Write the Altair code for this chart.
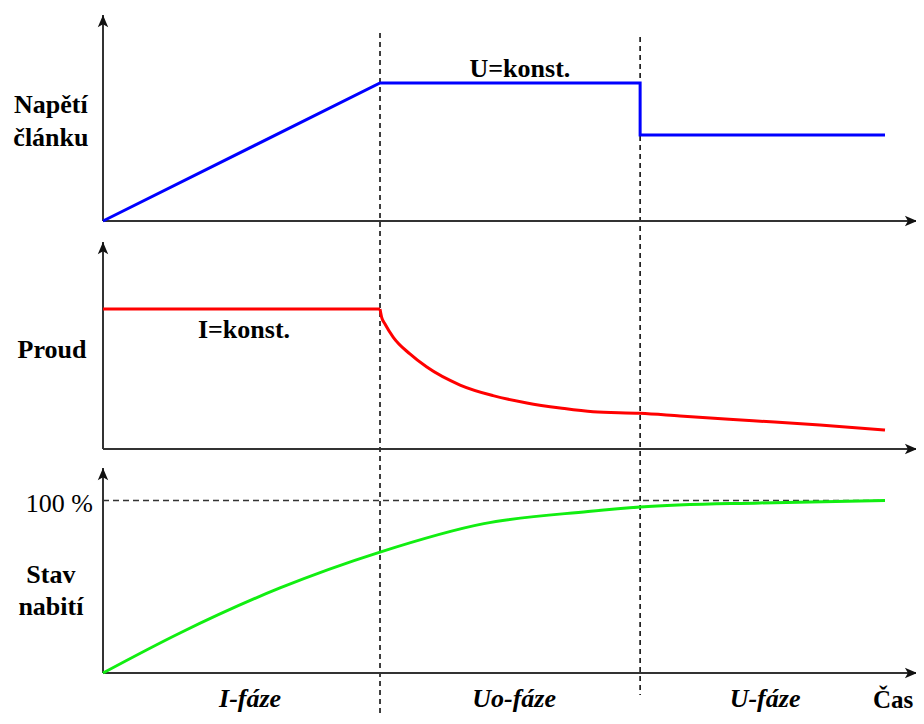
import altair as alt
import pandas as pd

# ---------------- data (time in arbitrary units) ----------------
phase_t = [0, 10, 19.39, 28.23]          # phase boundaries / end of record

volt_t = [0, 10, 19.39, 19.39, 28.23]
volt_v = [0, 1.0, 1.0, 0.623, 0.623]     # cell voltage (normalised)

# current: constant phase, then decaying phase
cur_const_t = [0, 10]
cur_const_v = [1.0, 1.0]
cur_decay_t = [10, 10.06, 10.18, 10.48, 11.08, 11.69, 12.89, 14.08, 15.30, 16.50,
               17.69, 19.39, 20.83, 23.47, 25.88, 28.23]
cur_decay_v = [1.0, 0.94, 0.893, 0.798, 0.679, 0.585, 0.457, 0.381, 0.329, 0.293,
               0.266, 0.255, 0.236, 0.202, 0.171, 0.136]

soc_t = [0, 2.78, 6.39, 10, 13.75, 17.51, 19.39, 23.72, 28.23]
soc_v = [0, 23.2, 49.3, 70.1, 86.6, 93.6, 96.2, 98.6, 100]   # state of charge %

axis_top = [1.493, 1.479, 118.8]   # axis extents (top of arrow) per panel
x_axis_end = 29.39

# ---------------- scales ----------------
FONT = "Liberation Serif"
XS = alt.Scale(domain=[0, 28.23], range=[95, 877], nice=False, zero=False)
YU = alt.Scale(domain=[0, 1], range=[213, 75], nice=False, zero=False)
YI = alt.Scale(domain=[0, 1], range=[441, 301], nice=False, zero=False)
YS = alt.Scale(domain=[0, 100], range=[665, 492.5], nice=False, zero=False)

UP = "M0,0 L0.85,2 L0,1.5 L-0.85,2 Z"
RIGHT = "M0,0 L-2,0.85 L-1.5,0 L-2,-0.85 Z"


def X(f="t"):
    return alt.X(f, type="quantitative", scale=XS, axis=None)


def Y(scale, f="v"):
    return alt.Y(f, type="quantitative", scale=scale, axis=None)


layers = []

# dashed phase boundaries (drawn with the top panel scale)
vdash = pd.DataFrame({"t": [phase_t[1], phase_t[2]], "v": [1.362, 1.333], "v2": [-3.60, -3.435]})
layers.append(alt.Chart(vdash).mark_rule(color="#111", strokeWidth=1.6, strokeDash=[5, 4]).encode(
    x=X(), y=Y(YU), y2="v2"))

# 100 % dashed line
hdash = pd.DataFrame({"t": [0], "t2": [phase_t[3]], "v": [100]})
layers.append(alt.Chart(hdash).mark_rule(color="#333", strokeWidth=1.6, strokeDash=[6, 4]).encode(
    x=X(), x2="t2", y=Y(YS)))

# axes for each panel
for sc, top in zip([YU, YI, YS], axis_top):
    ad = pd.DataFrame({"t": [0], "t2": [x_axis_end], "v": [0], "v2": [top]})
    layers.append(alt.Chart(ad).mark_rule(color="#333", strokeWidth=2).encode(
        x=X(), y=Y(sc), y2="v2"))
    layers.append(alt.Chart(ad).mark_rule(color="#333", strokeWidth=2).encode(
        x=X(), x2="t2", y=Y(sc)))
    layers.append(alt.Chart(ad).mark_point(shape=UP, size=150, filled=True, color="#111",
                                           opacity=1, strokeWidth=0).encode(
        x=X(), y=Y(sc, "v2")))
    layers.append(alt.Chart(ad).mark_point(shape=RIGHT, size=150, filled=True, color="#111",
                                           opacity=1, strokeWidth=0).encode(
        x=X("t2"), y=Y(sc)))

# curves
vd = pd.DataFrame({"t": volt_t, "v": volt_v, "i": range(len(volt_t))})
layers.append(alt.Chart(vd).mark_line(color="#0000ff", strokeWidth=3, strokeJoin="miter").encode(
    x=X(), y=Y(YU), order="i:Q"))

cc = pd.DataFrame({"t": cur_const_t, "v": cur_const_v})
layers.append(alt.Chart(cc).mark_line(color="#ff0000", strokeWidth=3).encode(
    x=X(), y=Y(YI)))
cdd = pd.DataFrame({"t": cur_decay_t, "v": cur_decay_v})
layers.append(alt.Chart(cdd).mark_line(color="#ff0000", strokeWidth=3, interpolate="monotone").encode(
    x=X(), y=Y(YI)))

sd = pd.DataFrame({"t": soc_t, "v": soc_v})
layers.append(alt.Chart(sd).mark_line(color="#11ee11", strokeWidth=3, interpolate="monotone").encode(
    x=X(), y=Y(YS)))


# texts
def texts(rows, scale, weight="bold", style="normal", align="center", size=26):
    df = pd.DataFrame(rows, columns=["t", "v", "label"])
    return alt.Chart(df).mark_text(font=FONT, fontSize=size, fontWeight=weight, fontStyle=style,
                                   align=align, baseline="alphabetic", color="#000").encode(
        x=X(), y=Y(scale), text="label:N")


layers.append(texts([[-1.88, 0.783, "Napětí"], [-1.88, 0.543, "článku"],
                     [15.05, 1.043, "U=konst."]], YU))
layers.append(texts([[-1.84, 0.65, "Proud"], [5.09, 0.793, "I=konst."]], YI))
layers.append(texts([[-1.88, 52.2, "Stav"], [-1.88, 33.6, "nabití"]], YS))
layers.append(texts([[29.25, -20.0, "Čas"]], YS, size=25, align="right"))
layers.append(texts([[-0.36, 93.3, "100 %"]], YS, weight="normal", align="right"))
layers.append(texts([[5.31, -19.5, "I-fáze"], [14.84, -19.5, "Uo-fáze"], [23.9, -19.5, "U-fáze"]],
                    YS, style="italic"))

chart = alt.layer(*layers).resolve_scale(y="independent").properties(
    width=908, height=708, padding=0, autosize=alt.AutoSizeParams(type="none")
).configure_view(stroke=None)

chart.save("out.html", embed_options={"renderer": "svg", "actions": False})
